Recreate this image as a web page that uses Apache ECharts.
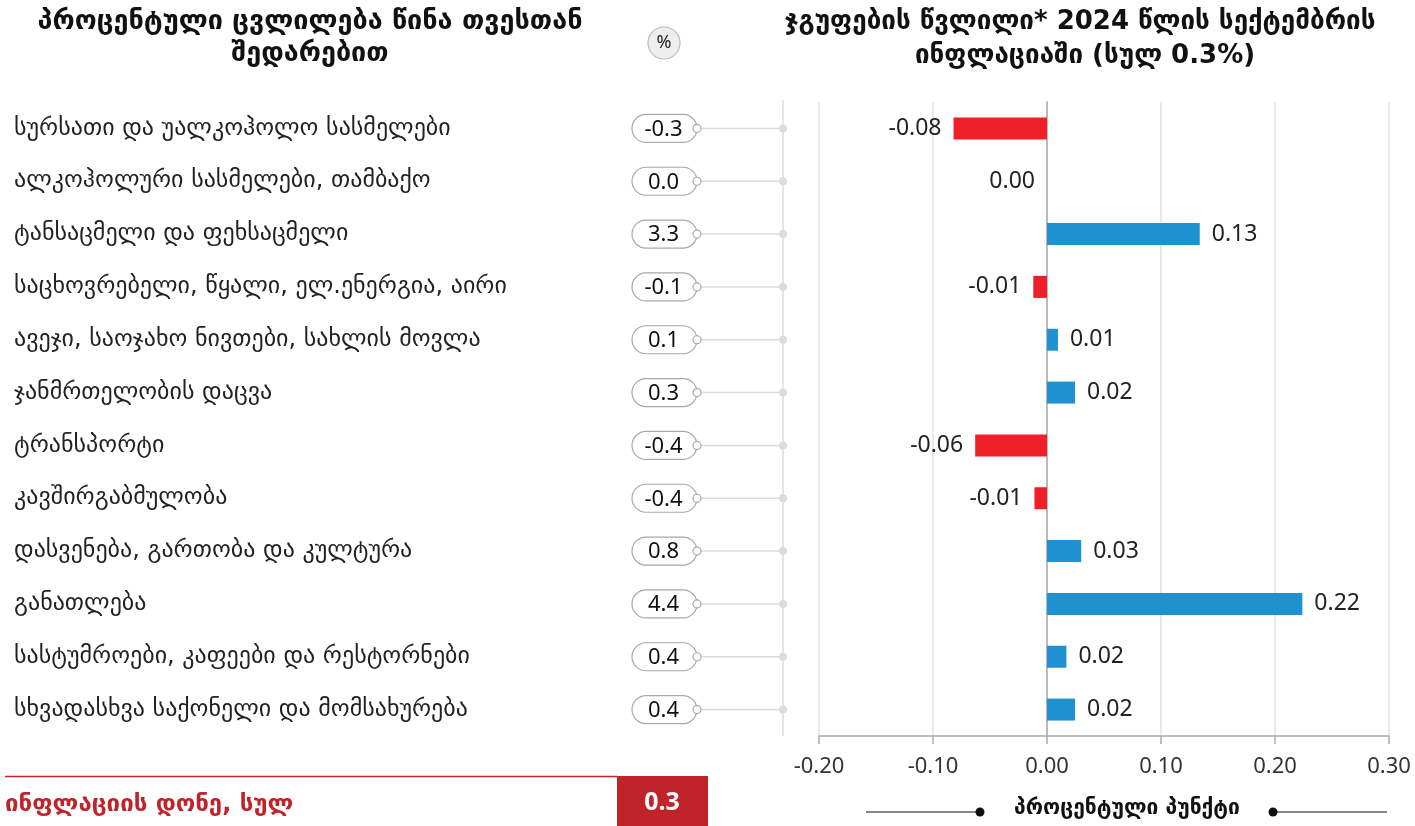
<!DOCTYPE html>
<html><head><meta charset="utf-8">
<script src="https://cdn.jsdelivr.net/npm/echarts@6/dist/echarts.min.js"></script>
<style>html,body{margin:0;padding:0;background:#fff}#c{width:1415px;height:826px}</style>
</head><body><div id="c"></div>
<script>
const categories = [
  'სურსათი და უალკოჰოლო სასმელები',
  'ალკოჰოლური სასმელები, თამბაქო',
  'ტანსაცმელი და ფეხსაცმელი',
  'საცხოვრებელი, წყალი, ელ.ენერგია, აირი',
  'ავეჯი, საოჯახო ნივთები, სახლის მოვლა',
  'ჯანმრთელობის დაცვა',
  'ტრანსპორტი',
  'კავშირგაბმულობა',
  'დასვენება, გართობა და კულტურა',
  'განათლება',
  'სასტუმროები, კაფეები და რესტორნები',
  'სხვადასხვა საქონელი და მომსახურება'
];
const pctChange = [-0.3, 0.0, 3.3, -0.1, 0.1, 0.3, -0.4, -0.4, 0.8, 4.4, 0.4, 0.4];
const contribution = [-0.082, 0.0, 0.134, -0.012, 0.0096, 0.0246, -0.063, -0.011, 0.030, 0.224, 0.017, 0.0246];
const xTicks = [-0.2, -0.1, 0.0, 0.1, 0.2, 0.3];
const totalInflation = '0.3';

const GEO = "'DejaVu Sans', sans-serif";
const NUM = "'Noto Sans', 'DejaVu Sans', sans-serif";
const RED = '#ee1f26', BLUE = '#1f91d0', DARKRED = '#c0232a';

const chart = echarts.init(document.getElementById('c'));
chart.setOption({
  animation: false,
  grid: [
    {left: 819, right: 26, top: 102, bottom: 90},
    {left: 14, right: 632, top: 102, bottom: 90}
  ],
  xAxis: [
    {gridIndex: 0, type: 'value', min: xTicks[0], max: xTicks[xTicks.length-1], interval: 0.1,
     axisLine: {show: true, onZero: false, lineStyle: {color: '#aaa', width: 1.5}},
     axisTick: {show: true, length: 8, lineStyle: {color: '#aaa', width: 1.5}},
     axisLabel: {color: '#333', fontSize: 22, fontFamily: NUM, margin: 20,
       formatter: v => v.toFixed(2)},
     splitLine: {show: true, lineStyle: {color: '#e3e3e3', width: 1.5}}},
    {gridIndex: 1, type: 'value', min: 0, max: 1, show: false}
  ],
  yAxis: [
    {gridIndex: 0, type: 'category', data: categories, inverse: true,
     axisLine: {show: true, onZero: true, lineStyle: {color: '#aaa', width: 1.5}},
     axisTick: {show: false}, axisLabel: {show: false}, splitLine: {show: false}},
    {gridIndex: 1, type: 'category', data: categories, inverse: true,
     axisLine: {show: false}, axisTick: {show: false}, splitLine: {show: false},
     axisLabel: {inside: true, margin: 0, color: '#222', fontSize: 24, fontFamily: GEO, align: 'left',
       padding: [4, 0, 0, 0]}}
  ],
  series: [
    {type: 'bar', xAxisIndex: 0, yAxisIndex: 0, barWidth: 22,
     data: contribution.map(v => ({
       value: v,
       itemStyle: {color: v < 0 ? RED : BLUE},
       label: {show: true, position: v > 0 ? 'right' : 'left', distance: 12,
         formatter: () => (Math.abs(v) < 0.005 ? 0 : v).toFixed(2),
         color: '#222', fontSize: 23, fontFamily: NUM}
     }))},
    {type: 'custom', xAxisIndex: 1, yAxisIndex: 1,
     data: pctChange.map((v, i) => [0, i, v]),
     encode: {x: 0, y: 1},
     renderItem: (params, api) => {
       const y = api.coord([0, api.value(1)])[1];
       const cs = params.coordSys;
       const R = cs.x + cs.width;
       const pl = R - 151, pr = R - 86;
       const v = api.value(2);
       return {type: 'group', children: [
         {type: 'line', shape: {x1: pr + 4, y1: y, x2: R, y2: y}, style: {stroke: '#dcdcdc', lineWidth: 1.5}},
         {type: 'circle', shape: {cx: R, cy: y, r: 4}, style: {fill: '#dcdcdc'}},
         {type: 'rect', shape: {x: pl, y: y - 14, width: pr - pl, height: 28, r: 14},
          style: {fill: '#fff', stroke: '#a8a8a8', lineWidth: 1.2}},
         {type: 'circle', shape: {cx: pr, cy: y, r: 4}, style: {fill: '#fff', stroke: '#a8a8a8', lineWidth: 1.2}},
         {type: 'text', style: {x: (pl + pr) / 2 - 1, y: y + 1, text: v.toFixed(1), align: 'center', verticalAlign: 'middle',
           fill: '#111', fontSize: 22, fontFamily: NUM}}
       ]};
     }}
  ],
  graphic: [
    {type: 'line', z: 0, shape: {x1: 783, y1: 100, x2: 783, y2: 736}, style: {stroke: '#dcdcdc', lineWidth: 1.5}},
    {type: 'text', style: {x: 310, y: 22, text: 'პროცენტული ცვლილება წინა თვესთან', align: 'center', verticalAlign: 'middle',
      fill: '#111', fontSize: 27, fontWeight: 'bold', fontFamily: GEO}},
    {type: 'text', style: {x: 310, y: 54, text: 'შედარებით', align: 'center', verticalAlign: 'middle',
      fill: '#111', fontSize: 27, fontWeight: 'bold', fontFamily: GEO}},
    {type: 'circle', shape: {cx: 664, cy: 43, r: 16}, style: {fill: '#eeeeee', stroke: '#bbbbbb', lineWidth: 1.2}},
    {type: 'text', style: {x: 664, y: 43, text: '%', align: 'center', verticalAlign: 'middle', fill: '#222', fontSize: 18, fontFamily: NUM}},
    {type: 'text', style: {x: 1080, y: 22, text: 'ჯგუფების წვლილი* 2024 წლის სექტემბრის', align: 'center', verticalAlign: 'middle',
      fill: '#111', fontSize: 26, fontWeight: 'bold', fontFamily: GEO}},
    {type: 'text', style: {x: 1085, y: 56, text: 'ინფლაციაში (სულ 0.3%)', align: 'center', verticalAlign: 'middle',
      fill: '#111', fontSize: 26, fontWeight: 'bold', fontFamily: GEO}},
    {type: 'line', shape: {x1: 5, y1: 776.5, x2: 617, y2: 776.5}, style: {stroke: DARKRED, lineWidth: 1.5}},
    {type: 'text', style: {x: 5, y: 805, text: 'ინფლაციის დონე, სულ', align: 'left', verticalAlign: 'middle',
      fill: DARKRED, fontSize: 24, fontWeight: 'bold', fontFamily: GEO}},
    {type: 'rect', shape: {x: 617, y: 776, width: 91, height: 50}, style: {fill: DARKRED}},
    {type: 'text', style: {x: 662, y: 803, text: totalInflation, align: 'center', verticalAlign: 'middle',
      fill: '#fff', fontSize: 25, fontWeight: 'bold', fontFamily: NUM}},
    {type: 'line', shape: {x1: 866, y1: 812, x2: 980, y2: 812}, style: {stroke: '#111', lineWidth: 1}},
    {type: 'circle', shape: {cx: 980, cy: 812, r: 4.5}, style: {fill: '#111'}},
    {type: 'text', style: {x: 1127, y: 809, text: 'პროცენტული პუნქტი', align: 'center', verticalAlign: 'middle',
      fill: '#111', fontSize: 21, fontWeight: 'bold', fontFamily: GEO}},
    {type: 'circle', shape: {cx: 1273, cy: 812, r: 4.5}, style: {fill: '#111'}},
    {type: 'line', shape: {x1: 1273, y1: 812, x2: 1387, y2: 812}, style: {stroke: '#111', lineWidth: 1}}
  ]
});
</script></body></html>
